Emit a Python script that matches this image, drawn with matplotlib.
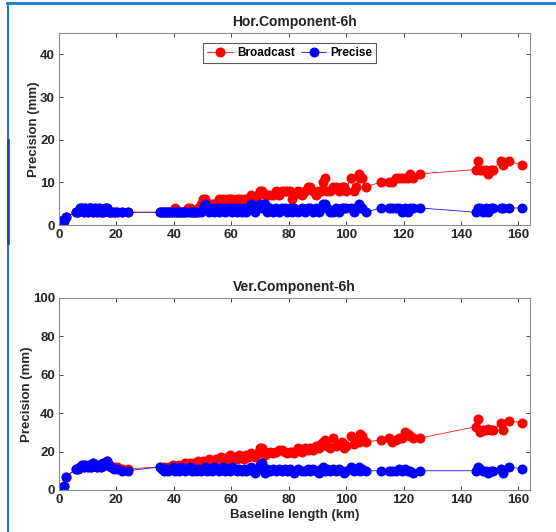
import matplotlib
matplotlib.use("Agg")
import matplotlib.pyplot as plt
from matplotlib.lines import Line2D

plt.rcParams['font.family'] = ['Liberation Sans', 'DejaVu Sans']
plt.rcParams['font.weight'] = 'bold'

baseline_km = [
    0.8, 1.2, 1.6, 2.5, 6.0, 6.8, 7.5, 8.0, 8.6, 9.2,
    10.0, 10.6, 11.3, 12.0, 12.6, 13.3, 14.0, 14.7, 15.4, 16.2,
    16.8, 17.5, 18.3, 19.2, 20.3, 22.0, 24.0, 35.2, 35.8, 36.5,
    37.3, 38.0, 38.8, 39.6, 40.3, 41.0, 41.8, 42.5, 43.3, 44.0,
    44.8, 45.5, 46.3, 47.0, 47.8, 48.6, 49.4, 50.2, 50.8, 51.6,
    52.4, 53.2, 54.0, 54.8, 55.6, 56.4, 57.2, 58.0, 58.8, 59.6,
    60.4, 61.2, 62.0, 62.8, 63.6, 64.4, 65.2, 66.0, 66.8, 67.6,
    68.4, 69.4, 70.0, 70.8, 71.6, 72.6, 73.6, 74.6, 75.6, 76.6,
    77.6, 78.6, 79.4, 80.6, 81.2, 82.0, 83.4, 84.6, 85.6, 86.8,
    87.6, 88.6, 89.4, 90.4, 91.2, 92.0, 92.6, 93.4, 94.4, 95.4,
    96.4, 97.6, 98.6, 99.2, 99.8, 101.6, 102.8, 103.6, 104.4, 104.8,
    105.4, 106.8, 112.0, 115.0, 116.0, 117.4, 118.4, 119.6, 120.6, 121.6,
    122.4, 123.2, 125.8, 145.2, 145.8, 146.6, 147.6, 148.6, 149.4, 150.4,
    151.2, 153.8, 154.8, 156.8, 161.2,
]

hor_precise = [
    1, 1, 1, 2, 3, 3, 4, 4, 3, 4,
    3, 4, 4, 3, 4, 3, 4, 3, 3, 4,
    4, 3, 3, 3, 3, 3, 3, 3, 3, 3,
    3, 3, 3, 3, 3, 3, 3, 3, 3, 3,
    3, 3, 3, 3, 3, 3, 3, 4, 5, 4,
    3, 4, 3, 4, 3, 4, 4, 3, 4, 4,
    3, 4, 3, 4, 3, 4, 3, 4, 5, 4,
    3, 4, 5, 4, 5, 3, 4, 3, 4, 3,
    4, 4, 3, 4, 3, 4, 3, 4, 3, 4,
    4, 3, 4, 3, 4, 5, 5, 4, 3, 3,
    4, 3, 4, 4, 4, 4, 3, 4, 5, 4,
    4, 3, 4, 4, 4, 4, 4, 3, 4, 3,
    4, 4, 4, 3, 4, 4, 3, 4, 3, 4,
    4, 4, 4, 4, 4,
]

hor_broadcast = [
    1, 1, 1, 2, 3, 3, 4, 4, 3, 4,
    3, 4, 4, 3, 4, 3, 4, 3, 3, 4,
    4, 3, 3, 3, 3, 3, 3, 3, 3, 3,
    3, 3, 3, 3, 4, 3, 3, 3, 3, 3,
    4, 4, 3, 3, 3, 4, 5, 6, 6, 5,
    5, 5, 5, 5, 6, 5, 6, 5, 6, 6,
    6, 5, 6, 6, 5, 6, 6, 6, 7, 6,
    6, 7, 8, 8, 7, 7, 7, 7, 8, 7,
    8, 8, 8, 8, 6, 7, 8, 7, 8, 9,
    9, 8, 7, 8, 8, 10, 11, 8, 8, 9,
    9, 8, 9, 9, 8, 11, 8, 9, 12, 11,
    11, 9, 10, 10, 10, 11, 11, 11, 11, 11,
    12, 11, 12, 13, 15, 13, 13, 13, 12, 13,
    13, 15, 14, 15, 14,
]

ver_precise = [
    1, 1, 2, 7, 11, 11, 12, 13, 12, 13,
    12, 13, 12, 14, 13, 12, 13, 12, 14, 13,
    15, 13, 12, 11, 11, 10, 10, 12, 11, 10,
    11, 10, 11, 12, 10, 11, 10, 12, 11, 10,
    11, 12, 10, 11, 10, 11, 10, 11, 12, 10,
    11, 10, 12, 11, 10, 11, 12, 10, 11, 10,
    12, 11, 10, 11, 10, 11, 10, 11, 12, 10,
    9, 11, 13, 14, 9, 11, 10, 11, 10, 11,
    10, 11, 10, 11, 10, 9, 11, 10, 10, 11,
    10, 11, 10, 9, 11, 12, 10, 11, 10, 11,
    10, 11, 10, 9, 10, 12, 10, 11, 12, 10,
    11, 10, 10, 10, 10, 10, 11, 10, 11, 10,
    10, 9, 10, 10, 12, 11, 10, 10, 9, 10,
    10, 11, 9, 12, 11,
]

ver_broadcast = [
    1, 1, 2, 7, 11, 11, 12, 13, 12, 13,
    12, 13, 12, 14, 13, 12, 13, 12, 14, 13,
    15, 13, 12, 12, 12, 11, 11, 12, 11, 12,
    11, 12, 12, 13, 12, 12, 13, 12, 13, 14,
    13, 14, 13, 14, 13, 15, 14, 15, 14, 15,
    16, 15, 14, 16, 15, 17, 16, 15, 17, 18,
    16, 17, 16, 18, 17, 16, 18, 17, 19, 18,
    17, 19, 22, 22, 18, 19, 20, 19, 20, 21,
    21, 20, 19, 20, 20, 19, 22, 20, 22, 21,
    22, 21, 23, 22, 24, 25, 26, 23, 22, 27,
    23, 24, 25, 22, 23, 28, 24, 26, 25, 29,
    28, 25, 26, 27, 25, 26, 27, 27, 30, 29,
    28, 27, 27, 33, 37, 30, 31, 31, 32, 31,
    31, 35, 31, 36, 35,
]

titles = ["Hor.Component-6h", "Ver.Component-6h"]
series_names = ["Broadcast", "Precise"]
x_ticks = [0, 20, 40, 60, 80, 100, 120, 140, 160]
hor_yticks = [0, 10, 20, 30, 40]
ver_yticks = [0, 20, 40, 60, 80, 100]

fig = plt.figure(figsize=(5.56, 5.32), dpi=100)

# screenshot frame
fig.add_artist(Line2D([0.012, 1.0], [0.995, 0.995], color="#1e7bd0", lw=2.0, transform=fig.transFigure))
fig.add_artist(Line2D([0.014, 0.014], [0.0, 0.995], color="#1e7bd0", lw=1.5, transform=fig.transFigure))
fig.add_artist(Line2D([0.015, 0.015], [1 - 243 / 532, 1 - 140 / 532], color="#1a4f9a", lw=2.0, transform=fig.transFigure))

ax1 = fig.add_axes([0.106, 0.577, 0.847, 0.361])
ax2 = fig.add_axes([0.106, 0.079, 0.847, 0.361])

ms = 7.2
lw = 0.55
for ax, bc, pr, title, yt, ylim in [
    (ax1, hor_broadcast, hor_precise, titles[0], hor_yticks, (0, 45)),
    (ax2, ver_broadcast, ver_precise, titles[1], ver_yticks, (0, 100)),
]:
    ax.plot(baseline_km, bc, color="red", marker="o", markersize=ms, lw=lw,
            markeredgewidth=0, label=series_names[0])
    ax.plot(baseline_km, pr, color="blue", marker="o", markersize=ms, lw=lw,
            markeredgewidth=0, label=series_names[1])
    ax.set_xlim(0, 164)
    ax.set_ylim(*ylim)
    ax.set_xticks(x_ticks)
    ax.set_yticks(yt)
    ax.set_title(title, fontsize=10, fontweight="bold", pad=5, color="#222222")
    ax.set_ylabel("Precision (mm)", fontsize=9.5, fontweight="bold", color="#262626", labelpad=0)
    ax.tick_params(direction="in", top=True, right=True, length=3, width=0.6,
                   colors="#262626", labelsize=9.5, pad=3)
    for s in ax.spines.values():
        s.set_color("#8c8c8c")
        s.set_linewidth(0.8)
    for lab in ax.get_xticklabels() + ax.get_yticklabels():
        lab.set_fontweight("bold")

ax2.set_xlabel("Baseline length (km)", fontsize=9.5, fontweight="bold", color="#262626", labelpad=2)

leg = ax1.legend(loc="upper center", bbox_to_anchor=(0.49, 0.95), ncol=2,
                 fontsize=8.5, frameon=True, fancybox=False, edgecolor="#333333",
                 handlelength=2.2, columnspacing=0.5, handletextpad=0.3,
                 borderpad=0.35, borderaxespad=0)
leg.get_frame().set_linewidth(0.8)
for t in leg.get_texts():
    t.set_fontweight("bold")

fig.savefig("out.png", dpi=100)
